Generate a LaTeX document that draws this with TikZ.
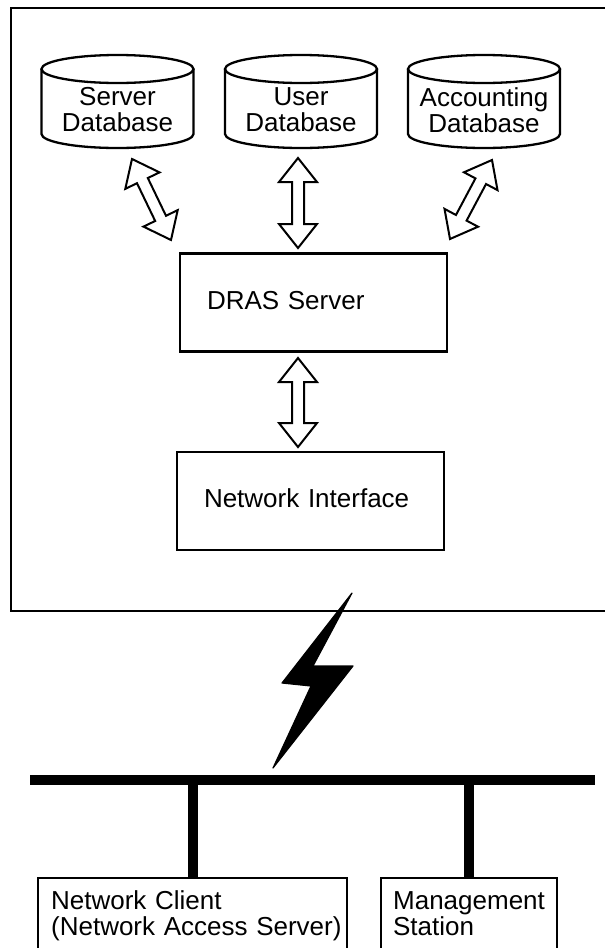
\documentclass[tikz,border=0pt]{standalone}
\usepackage{fontspec}
\setmainfont{Liberation Sans}
\usetikzlibrary{calc, positioning}

% hollow two-headed arrow between two coordinates
\newcommand{\hollowarrow}[2]{%
  \draw[dblarrow] let \p1=($(#2)-(#1)$), \n1={veclen(\x1,\y1)}, \n2={atan2(\y1,\x1)} in
    [shift={(#1)}, rotate=\n2]
    (0,0) -- (24,19) -- (24,6) -- (\n1-24,6) -- (\n1-24,19) -- (\n1,0)
    -- (\n1-24,-19) -- (\n1-24,-6) -- (24,-6) -- (24,-19) -- cycle;}

% database drum: name, centre x, text
\newcommand{\database}[3]{%
  \draw[outline] (#2-76,69) -- (#2-76,134) arc[start angle=180, end angle=360, x radius=76pt, y radius=14pt] -- (#2+76,69);
  \draw[outline] (#2,69) ellipse [x radius=76pt, y radius=14pt];
  \node[dbtext] (#1) at (#2,110) {#3};}

\begin{document}
\begin{tikzpicture}[
        x=1pt, y=-1pt,
        font=\fontsize{26}{26}\selectfont,
        outline/.style={line width=2.3pt},
        dbtext/.style={align=center, inner sep=0pt},
        box/.style={rectangle, draw, outline, minimum width=267pt, minimum height=98pt, text width=213pt, inner xsep=27pt, text height=19pt, text depth=6pt, align=left},
        station/.style={rectangle, draw, outline, anchor=north west, text height=19pt, text depth=45pt, inner ysep=12pt, align=left},
        dblarrow/.style={line width=2pt, fill=white, line join=miter},
        bus/.style={line width=10pt}
    ]
        \clip (0,0) rectangle (605,948);

        % Server frame
        \draw[outline] (11,8) rectangle (620,611);

        % Databases
        \database{sdb}{117.5}{Server\\Database}
        \database{udb}{301}{User\\Database}
        \database{adb}{484}{Accounting\\Database}

        % Server and interface
        \node[box] (dras) at (313.5,302.5) {DRAS Server};
        \node[box] (netif) at (310.5,501) {Network Interface};

        % Arrow ends
        \coordinate (sa1) at (132,159);
        \coordinate (sa2) at (171,240);
        \coordinate (ua1) at (298,158);
        \coordinate (ua2) at (298,248);
        \coordinate (aa1) at (492,160);
        \coordinate (aa2) at (450,239);
        \coordinate (na1) at (298,358);
        \coordinate (na2) at (298,447);

        \hollowarrow{sa1}{sa2}
        \hollowarrow{ua1}{ua2}
        \hollowarrow{aa1}{aa2}
        \hollowarrow{na1}{na2}

        % Link
        \filldraw[line width=1.2pt, line join=round] (352,593) -- (282,683) -- (311,686) -- (273,768) -- (353,666) -- (313,666) -- cycle;

        % LAN
        \coordinate (busL) at (30,780);
        \coordinate (busR) at (595,780);
        \draw[bus] (busL) -- (busR);

        \node[station, text width=283pt, inner xsep=13pt] (client) at (37,877) {Network Client\\\mbox{(Network Access Server)}};
        \node[station, text width=152pt, inner xsep=12pt] (mgmt) at (380,877) {\mbox{Management}\\Station};

        \draw[bus] (client.north) -- (client.north |- busL);
        \draw[bus] (mgmt.north) -- (mgmt.north |- busL);
    \end{tikzpicture}
\end{document}
